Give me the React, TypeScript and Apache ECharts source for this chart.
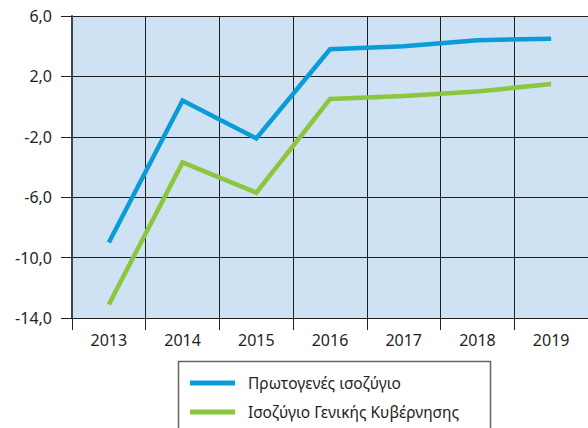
import React, { useEffect, useRef } from "react";
import * as echarts from "echarts";

const years = ["2013", "2014", "2015", "2016", "2017", "2018", "2019"];
const primaryBalance = [-9.0, 0.4, -2.1, 3.8, 4.0, 4.4, 4.5];
const generalBalance = [-13.1, -3.7, -5.7, 0.5, 0.7, 1.0, 1.5];
const seriesNames = ["Πρωτογενές ισοζύγιο", "Ισοζύγιο Γενικής Κυβέρνησης"];

const FONT = "Noto Sans";
const TEXT = "#231f20";
const GRID = "#231f20";

export default function App() {
  const ref = useRef<HTMLDivElement>(null);
  useEffect(() => {
    document.body.style.margin = "0";
    const chart = echarts.init(ref.current!, null, { renderer: "svg" });
    chart.setOption({
      animation: false,
      textStyle: { fontFamily: FONT },
      grid: {
        left: 72,
        top: 16,
        right: -12.5,
        bottom: 110,
        show: true,
        backgroundColor: "#cfe2f3",
        borderWidth: 0,
      },
      xAxis: {
        type: "category",
        data: years,
        boundaryGap: true,
        axisLine: { show: true, onZero: false, lineStyle: { color: GRID, width: 1 } },
        axisTick: { show: true, length: 12, lineStyle: { color: GRID } },
        splitLine: { show: true, lineStyle: { color: GRID, width: 1 } },
        axisLabel: { color: TEXT, fontSize: 16, fontFamily: FONT, margin: 14 },
      },
      yAxis: {
        type: "value",
        min: -14,
        max: 6,
        interval: 4,
        axisLine: { show: true, lineStyle: { color: "#444", width: 2 } },
        axisTick: { show: true, length: 11, lineStyle: { color: GRID } },
        splitLine: { show: true, lineStyle: { color: GRID, width: 1 } },
        axisLabel: {
          color: TEXT,
          fontSize: 16,
          fontFamily: FONT,
          margin: 20,
          formatter: (v: number) => v.toFixed(1).replace(".", ","),
        },
      },
      legend: {
        orient: "vertical",
        left: 190,
        top: 374,
        icon: "rect",
        itemWidth: 45,
        itemHeight: 5,
        itemGap: 11,
        padding: 0,
        textStyle: {
          color: TEXT,
          fontSize: 15.5,
          fontFamily: FONT,
          lineHeight: 18,
          padding: [0, 0, 0, 8],
        },
        data: seriesNames,
      },
      graphic: [
        {
          type: "rect",
          shape: { x: 178.5, y: 361.5, width: 312, height: 80 },
          style: { fill: "none", stroke: "#666", lineWidth: 1.5 },
          silent: true,
        },
      ],
      series: [
        {
          name: seriesNames[0],
          type: "line",
          data: primaryBalance,
          symbol: "none",
          lineStyle: { color: "#0b9bd7", width: 4.5, join: "miter", cap: "butt" },
          itemStyle: { color: "#0b9bd7" },
        },
        {
          name: seriesNames[1],
          type: "line",
          data: generalBalance,
          symbol: "none",
          lineStyle: { color: "#8cc63e", width: 4.5, join: "miter", cap: "butt" },
          itemStyle: { color: "#8cc63e" },
        },
      ],
    });
    return () => chart.dispose();
  }, []);
  return (
    <div
      ref={ref}
      style={{ position: "absolute", left: 0, top: 0, width: 588, height: 428 }}
    />
  );
}
